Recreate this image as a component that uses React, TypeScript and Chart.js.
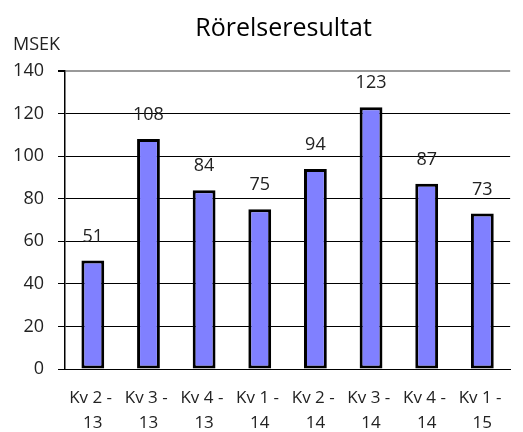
import React, { useEffect, useRef } from "react";
import { Chart, registerables } from "chart.js";

Chart.register(...registerables);

const categories: string[][] = [
  ["Kv 2 - ", "13"],
  ["Kv 3 - ", "13"],
  ["Kv 4 - ", "13"],
  ["Kv 1 - ", "14"],
  ["Kv 2 - ", "14"],
  ["Kv 3 - ", "14"],
  ["Kv 4 - ", "14"],
  ["Kv 1 - ", "15"],
];
const values: number[] = [51, 108, 84, 75, 94, 123, 87, 73];
const titleText = "Rörelseresultat";
const unitText = "MSEK";
const FONT = "'Open Sans', 'Noto Sans', sans-serif";

const overlay = {
  id: "overlay",
  afterDatasetsDraw(chart: any) {
    const ctx = chart.ctx;
    const area = chart.chartArea;
    ctx.save();
    ctx.fillStyle = "#000";
    ctx.font = `500 25px ${FONT}`;
    ctx.textAlign = "center";
    ctx.textBaseline = "middle";
    ctx.fillText(titleText, (area.left + area.right) / 2 - 4, 29);
    ctx.font = `18px ${FONT}`;
    ctx.fillStyle = "#222";
    ctx.textAlign = "left";
    ctx.fillText(unitText, 13, 45);
    const meta = chart.getDatasetMeta(0);
    ctx.textAlign = "center";
    meta.data.forEach((bar: any, i: number) => {
      ctx.fillText(String(values[i]), bar.x, bar.y - 24);
    });
    ctx.restore();
  },
};

export default function App() {
  const ref = useRef<HTMLCanvasElement>(null);
  useEffect(() => {
    document.body.style.margin = "0";
    const chart = new Chart(ref.current!, {
      type: "bar",
      data: {
        labels: categories,
        datasets: [
          {
            data: values,
            backgroundColor: "#8080FF",
            borderColor: "#000",
            borderWidth: 3,
            borderSkipped: false,
            categoryPercentage: 1,
            barPercentage: 0.41,
          },
        ],
      },
      options: {
        responsive: false,
        animation: false,
        layout: { padding: { top: 71, right: 0, left: 0, bottom: 0 } },
        plugins: {
          legend: { display: false },
          title: { display: false },
          tooltip: { enabled: false },
        },
        scales: {
          x: {
            afterFit: (s: any) => {
              s.height = 63;
            },
            grid: { display: false, drawTicks: false },
            border: { color: "#000", width: 1 },
            ticks: {
              color: "#222",
              font: { family: FONT, size: 17, lineHeight: 1.47 },
              padding: 17,
              maxRotation: 0,
              autoSkip: false,
            },
          },
          y: {
            min: 0,
            max: 140,
            afterFit: (s: any) => {
              s.width = 65;
            },
            ticks: {
              stepSize: 20,
              color: "#222",
              font: { family: FONT, size: 18 },
              padding: 14,
            },
            grid: {
              color: (c: any) => (c.tick && c.tick.value === 140 ? "#999" : "#000"),
              lineWidth: (c: any) => (c.tick && c.tick.value === 140 ? 2 : 1),
              tickLength: 7,
              tickColor: "#000",
            },
            border: { color: "#000", width: 1.5 },
          },
        },
      },
      plugins: [overlay],
    });
    return () => chart.destroy();
  }, []);
  return <canvas ref={ref} width={523} height={432} style={{ display: "block" }} />;
}
